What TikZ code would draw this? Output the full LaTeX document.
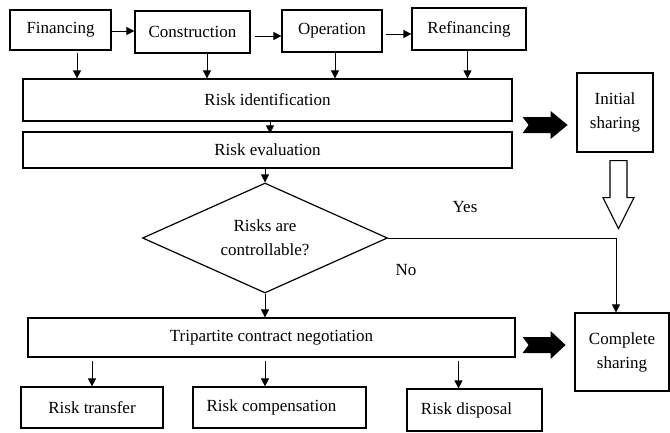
\documentclass[tikz,border=0pt]{standalone}
\usepackage{fontspec}
\setmainfont{Liberation Serif}
\usetikzlibrary{arrows.meta,shapes.geometric,calc}
\begin{document}
\begin{tikzpicture}[x=1pt,y=-1pt,
  font=\fontsize{17}{24}\selectfont,
  box/.style={draw, line width=1.2pt, inner sep=0pt, align=center},
  arr/.style={line width=0.8pt, -{Triangle[length=8pt,width=8pt]}},
  fat/.style={fill=black},
  hollow/.style={draw, line width=1.2pt, fill=white}]
\useasboundingbox (0,0) rectangle (670,432);
% top row
\node[box, minimum width=101pt, minimum height=40pt] (fin) at (60.5,30) {Financing};
\node[box, minimum width=115pt, minimum height=42pt] (con) at (192.5,32) {Construction};
\node[box, minimum width=100pt, minimum height=42pt] (ope) at (332,31) {Operation};
\node[box, minimum width=114pt, minimum height=42pt] (ref) at (469,29) {Refinancing};
% main column
\node[box, minimum width=489pt, minimum height=42pt] (rid) at (267.5,100) {Risk identification};
\node[box, minimum width=489pt, minimum height=36pt] (eva) at (267.5,150) {Risk evaluation};
\node[draw, line width=1.2pt, diamond, aspect=2.23, inner sep=0pt, minimum width=245pt, minimum height=110pt, align=center] (dia) at (265,238) {Risks are\\controllable?};
\node[box, minimum width=487pt, minimum height=39pt] (tri) at (271.5,337.5) {Tripartite contract negotiation};
\node[box, minimum width=142pt, minimum height=41pt] (rtr) at (92,407.5) {Risk transfer};
\node[box, minimum width=173pt, minimum height=41pt] (rco) at (279.5,407.5) {Risk compensation\hspace*{16pt}};
\node[box, minimum width=135pt, minimum height=42pt] (rdi) at (474.5,410) {Risk disposal\hspace*{16pt}};
% right column
\node[box, minimum width=76pt, minimum height=79pt] (init) at (615,112.5) {Initial\\sharing};
\node[box, minimum width=94pt, minimum height=78pt] (comp) at (622,352) {Complete\\sharing};
% labels
\node (yes) at (465,207) {Yes};
\node (no) at (406,270) {No};
% top row arrows
\draw[arr] ([yshift=-1pt]fin.east) -- ([yshift=-1pt]fin.east -| con.west);
\draw[arr] ([xshift=4pt,yshift=-4pt]con.east) -- ([yshift=-4pt]con.east -| ope.west);
\draw[arr] ([xshift=3pt,yshift=-3pt]ope.east) -- ([yshift=-3pt]ope.east -| ref.west);
% down arrows into risk identification
\draw[arr] ([xshift=16.5pt,yshift=-2pt]fin.south) -- ([xshift=16.5pt]fin.south |- rid.north);
\draw[arr] ([xshift=14.5pt]con.south) -- ([xshift=14.5pt]con.south |- rid.north);
\draw[arr] ([xshift=3pt]ope.south) -- ([xshift=3pt]ope.south |- rid.north);
\draw[arr] ([xshift=-1.5pt]ref.south) -- ([xshift=-1.5pt]ref.south |- rid.north);
% column arrows
\draw[arr] ([xshift=2.5pt]rid.south) -- ([xshift=2.5pt,yshift=-2pt]rid.south |- eva.north);
\draw[arr] (eva.south -| dia.north) -- (dia.north);
\draw[arr] (dia.south) -- (dia.south |- tri.north);
\draw[arr] (dia.east) -| ([xshift=-6pt]comp.north);
% down arrows from tripartite
\draw[arr] ([yshift=-3pt]tri.south -| rtr.north) -- (rtr.north);
\draw[arr] ([yshift=-3pt]tri.south -| dia.south) -- (dia.south |- rco.north);
\draw[arr] ([xshift=-16pt,yshift=-3pt]tri.south -| rdi.north) -- ([xshift=-16pt]rdi.north);
% fat black arrows
\coordinate (fa1) at ($(rid.east)!0.5!(eva.east)+(10,0)$);
\fill[fat] ($(fa1)+(0,-8)$) -- ++(28,0) -- ++(0,-6) -- ++(17,14) -- ++(-17,14) -- ++(0,-6) -- ++(-28,0) -- ++(6,-8) -- cycle;
\coordinate (fa2) at ($(tri.east)+(7,7.5)$);
\fill[fat] ($(fa2)+(0,-8)$) -- ++(28,0) -- ++(0,-6) -- ++(15,14) -- ++(-15,14) -- ++(0,-6) -- ++(-28,0) -- ++(6,-8) -- cycle;
% hollow arrow
\coordinate (ha) at ($(init.south)+(3.5,8)$);
\draw[hollow] ($(ha)+(-8.5,0)$) -- ++(17,0) -- ++(0,37) -- ++(7,0) -- ++(-15.5,31) -- ++(-15.5,-31) -- ++(7,0) -- cycle;
\end{tikzpicture}
\end{document}
